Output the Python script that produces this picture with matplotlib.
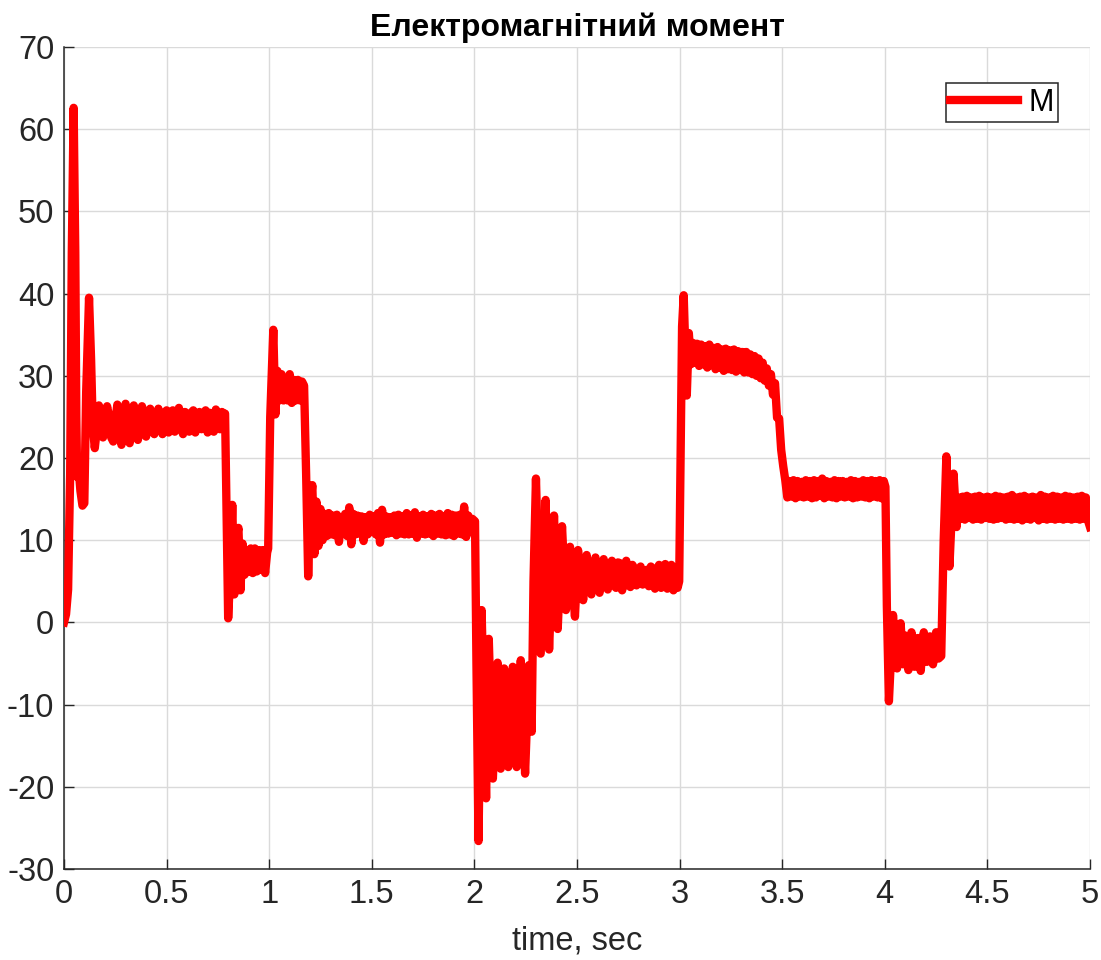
import numpy as np
import matplotlib.pyplot as plt
from matplotlib import font_manager

# --- electromagnetic torque M(t) ---
# irregular stretches (transients) are stored as time/value pairs,
# steady ripple stretches as values on a fixed 0.01 s step

t_launch = [0, 0.01, 0.02, 0.03, 0.038, 0.047, 0.055, 0.06, 0.064, 0.072, 0.08,
            0.09, 0.099, 0.108, 0.122, 0.132, 0.14]
m_launch = [0, 1, 4, 18, 45, 62.6, 45, 25, 17.7, 18.5, 16, 14.2, 14.5, 28,
            39.5, 32, 24]

t0_ripple1 = 0.15
m_ripple1 = [21.2, 23.5, 26.4, 25.5, 22.5, 24.8, 26.3, 25.0, 22.5, 22.0, 24.5,
             26.5, 25.0, 21.6, 23.5, 26.6, 24.5, 21.8, 24.0, 26.4, 25.5, 22.2,
             23.8, 26.3, 25.0, 22.6, 24.5, 26.0, 24.0, 22.9, 25.0, 26.0, 24.0,
             22.9, 25.5, 25.8, 23.1, 25.0, 25.8, 23.2, 24.8, 26.1, 24.0, 22.9,
             25.6, 25.0, 23.2, 25.5, 25.8, 23.1, 24.8, 25.6, 23.5, 24.5, 25.8,
             23.1, 25.5, 25.0, 23.2, 25.9, 24.0, 23.5, 25.6, 25.3]

t_step1 = [0.785, 0.792, 0.80, 0.81, 0.82, 0.83, 0.84, 0.85, 0.86]
m_step1 = [25.4, 14, 0.5, 6, 14.3, 3.4, 10, 11.5, 3.9]

t0_ripple2 = 0.87
m_ripple2 = [9.6, 5.8, 8.8, 6.2, 9.0, 6.0, 9.0, 6.2, 8.8, 6.4, 8.8, 6.0, 8.5]

t_step2 = [0.995, 1.005, 1.02, 1.03, 1.04, 1.05, 1.06, 1.07, 1.08, 1.09, 1.10,
           1.11, 1.12, 1.13, 1.14, 1.15, 1.16, 1.17, 1.18, 1.19, 1.20, 1.21,
           1.22]
m_step2 = [9, 25, 35.6, 25.3, 30.6, 27, 30.2, 27.0, 29.5, 27, 30.2, 26.7, 29.5,
           27, 29.5, 27.0, 29.3, 28.8, 18, 5.6, 14, 16.7, 8.3]

t0_ripple3 = 1.23
m_ripple3 = [14.7, 9.3, 13.8, 10.0, 13.2, 10.5, 13.3, 10.7, 13.0, 10.6, 13.1,
             9.8, 12.8, 10.8, 13.2, 10.5, 14.0, 9.5, 13.2, 10.7, 13.0, 10.8,
             12.9, 9.9, 12.8, 10.7, 13.1, 11.0, 12.9, 10.7, 13.3, 9.7, 13.7,
             10.7, 12.9, 10.8, 12.8, 10.9, 13.0, 10.6, 13.1, 10.8, 12.9, 10.7,
             13.3, 10.7, 13.0, 10.8, 13.4, 10.3, 12.9, 10.8, 13.1, 10.7, 12.9,
             10.8, 13.2, 10.5, 13.0, 10.8, 13.2, 10.7, 12.9, 10.6, 13.3, 10.7,
             13.1, 10.5, 13.0, 10.8, 13.1, 10.7, 14.1, 10.4, 13.0, 11.0, 12.6]

t_step3 = [2.003, 2.01, 2.02, 2.035, 2.057, 2.07, 2.09, 2.113, 2.128, 2.145,
           2.165, 2.187, 2.206, 2.226, 2.247, 2.266, 2.279, 2.288, 2.30, 2.323,
           2.347, 2.364, 2.388, 2.406, 2.427, 2.446, 2.466, 2.49, 2.505, 2.53,
           2.547]
m_step3 = [12.3, -5, -26.6, 1.5, -21.4, -2.0, -19.0, -4.9, -17.8, -5.6, -17.6,
           -5.4, -17.6, -4.6, -18.4, -5.2, -13.3, 5, 17.5, -3.8, 14.9, -3.3,
           13.0, -0.8, 11.7, 1.5, 9.2, 0.7, 8.8, 2.7, 8.2]

t0_ripple4 = 2.56
m_ripple4 = [4.2, 3.4, 6.5, 7.9, 5.0, 3.6, 6.0, 7.7, 5.5, 4.0, 7.0, 7.5, 4.5,
             4.2, 7.3, 7.2, 3.9, 5.5, 7.5, 5.0, 4.3, 7.0, 6.5, 4.5, 5.8, 6.8,
             4.6, 6.0, 6.4, 4.4, 6.8, 6.2, 4.1, 6.5, 7.0, 4.2, 6.0, 7.1, 4.1,
             6.4, 7.0, 3.9, 6.5, 4.2]

t_step4 = [2.998, 3.005, 3.012, 3.02, 3.028, 3.035, 3.045]
m_step4 = [5, 20, 36, 39.8, 33, 27.6, 35.2]

t0_ripple5 = 3.055
m_ripple5 = [31.4, 34.0, 31.6, 33.9, 31.2, 33.8, 31.4, 33.6, 31.0, 33.8, 31.3,
             33.4, 30.8, 33.5, 31.0, 33.2, 30.6, 33.3, 30.8, 33.1, 30.7, 33.2,
             30.5, 33.0, 30.7, 32.9, 30.4, 32.9, 30.4, 32.6, 30.2, 32.4, 30.0,
             32.1, 29.7, 31.6, 29.4, 30.9, 28.8, 30.2, 27.7, 29.1, 24.9, 24.8,
             21.0, 19.0]

t0_ripple6 = 3.515
m_ripple6 = [17.3, 15.2, 17.2, 15.3, 17.3, 15.1, 17.2, 15.3, 17.1, 15.2, 17.3,
             15.3, 17.2, 15.1, 17.3, 15.2, 17.2, 15.4, 17.5, 15.1, 17.2, 15.3,
             17.1, 15.2, 17.3, 15.1, 17.2, 15.3, 17.2, 15.2, 17.1, 15.3, 17.3,
             15.1, 17.2, 15.2, 17.1, 15.3, 17.3, 15.2, 17.2, 15.1, 17.3, 15.3,
             17.2, 15.2, 17.3, 15.1, 17.2]

t_step5 = [4.003, 4.01, 4.02, 4.04, 4.06, 4.077, 4.09, 4.10, 4.115, 4.13,
           4.145, 4.16, 4.175, 4.19, 4.205, 4.22, 4.235, 4.25, 4.262, 4.275,
           4.287, 4.30, 4.315, 4.335, 4.35]
m_step5 = [16.5, 2, -9.6, 0.9, -5.6, -0.1, -5.1, -1.6, -5.8, -1.2, -5.4, -1.9,
           -5.9, -1.2, -4.8, -1.7, -5.1, -1.2, -4.4, -4.1, 10, 20.2, 6.8, 18.1,
           11.6]

t0_ripple7 = 4.36
m_ripple7 = [15.2, 12.6, 15.3, 12.5, 15.4, 12.7, 15.2, 12.5, 15.3, 12.6, 15.4,
             12.5, 15.2, 12.7, 15.3, 12.6, 15.2, 12.5, 15.4, 12.6, 15.3, 12.7,
             15.2, 12.5, 15.3, 12.6, 15.5, 12.5, 15.2, 12.6, 15.3, 12.4, 15.4,
             12.6, 15.2, 12.5, 15.3, 12.7, 15.2, 12.4, 15.5, 12.6, 15.3, 12.5,
             15.2, 12.6, 15.4, 12.5, 15.3, 12.6, 15.2, 12.5, 15.4, 12.6, 15.3,
             12.5, 15.2, 12.6, 15.3, 12.5, 15.4, 12.6, 15.2, 12.4, 11.6]

ripple_dt = 0.01


def ripple_times(t0, values):
    return list(t0 + ripple_dt * np.arange(len(values)))


time = (t_launch + ripple_times(t0_ripple1, m_ripple1)
        + t_step1 + ripple_times(t0_ripple2, m_ripple2)
        + t_step2 + ripple_times(t0_ripple3, m_ripple3)
        + t_step3 + ripple_times(t0_ripple4, m_ripple4)
        + t_step4 + ripple_times(t0_ripple5, m_ripple5)
        + ripple_times(t0_ripple6, m_ripple6)
        + t_step5 + ripple_times(t0_ripple7, m_ripple7))
torque = (m_launch + m_ripple1 + m_step1 + m_ripple2 + m_step2 + m_ripple3
          + m_step3 + m_ripple4 + m_step4 + m_ripple5 + m_ripple6 + m_step5
          + m_ripple7)

x_ticks = [0, 0.5, 1, 1.5, 2, 2.5, 3, 3.5, 4, 4.5, 5]
x_tick_labels = ['0', '0.5', '1', '1.5', '2', '2.5', '3', '3.5', '4', '4.5', '5']
y_ticks = [-30, -20, -10, 0, 10, 20, 30, 40, 50, 60, 70]
y_tick_labels = ['-30', '-20', '-10', '0', '10', '20', '30', '40', '50', '60', '70']

# narrow sans if present, otherwise the regular one
installed = {f.name for f in font_manager.fontManager.ttflist}
face = 'Liberation Sans Narrow' if 'Liberation Sans Narrow' in installed else 'Liberation Sans'
plt.rcParams['font.family'] = [face, 'DejaVu Sans']

fig = plt.figure(figsize=(11.01, 9.6), dpi=100)
ax = fig.add_axes([64 / 1101, 91 / 960, 1026 / 1101, 822 / 960])

ax.plot(time, torque, color='#ff0000', lw=6, solid_joinstyle='round',
        label='M', zorder=3)

ax.set_xlim(0, 5)
ax.set_ylim(-30, 70)
ax.set_xticks(x_ticks)
ax.set_xticklabels(x_tick_labels)
ax.set_yticks(y_ticks)
ax.set_yticklabels(y_tick_labels)

ax.grid(True, color='#dadada', lw=1.0)
ax.set_axisbelow(True)
for side in ('top', 'right'):
    ax.spines[side].set_visible(False)
for side in ('left', 'bottom'):
    ax.spines[side].set_color('#262626')
    ax.spines[side].set_linewidth(1.1)
ax.tick_params(direction='in', length=7, width=1, colors='#262626',
               labelsize=23.5, pad=7, labelcolor='#262626')

ax.set_title('Електромагнітний момент', fontsize=23, fontweight='bold',
             family=['Liberation Sans', 'DejaVu Sans'], pad=8)
ax.set_xlabel('time, sec', fontsize=23.5, color='#262626', labelpad=11)

leg = ax.legend(loc='upper right', bbox_to_anchor=(0.969, 0.956),
                borderaxespad=0, fontsize=22, handlelength=2.2,
                handletextpad=0.35, borderpad=0.15, fancybox=False,
                framealpha=1, edgecolor='#262626')
leg.get_frame().set_linewidth(1.1)

fig.savefig('out.png', dpi=100)
